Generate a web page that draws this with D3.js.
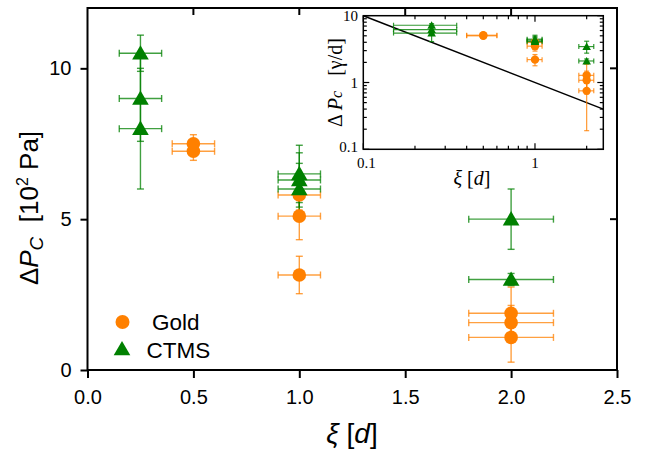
<!DOCTYPE html>
<html><head><meta charset="utf-8">
<script src="https://cdn.jsdelivr.net/npm/d3@7"></script>
<style>html,body{margin:0;padding:0;background:#fff;} text{white-space:pre;}</style>
</head><body>
<svg id="c" width="655" height="450"></svg>
<script>
// ---- data (main panel) ----
const goldX    = [0.5, 0.5, 1, 1, 1, 2, 2, 2];
const goldY    = [7.5, 7.25, 5.8, 5.1, 3.15, 1.88, 1.57, 1.08];
const goldYErr = [0.3, 0.3, 0.5, 0.78, 0.62, 0.87, 0.57, 0.82];
const goldXErr = [0.1, 0.1, 0.1, 0.1, 0.1, 0.2, 0.2, 0.2];

const ctmsX    = [0.25, 0.25, 0.25, 1, 1, 1, 2, 2];
const ctmsY    = [10.5, 9.0, 8.0, 6.5, 6.3, 6.0, 5.0, 3.0];
const ctmsYErr = [0.6, 1.42, 2.0, 0.95, 0.9, 0.85, 1.0, 0.2];
const ctmsXErr = [0.1, 0.1, 0.1, 0.1, 0.1, 0.1, 0.2, 0.2];

// ---- data (inset, normalized [γ/d]) ----
const insetGoldY    = [5.1, 5.0, 4.0, 3.5, 2.2, 1.28, 1.08, 0.75];
const insetGoldYErr = [0.2, 0.2, 0.35, 0.55, 0.42, 0.6, 0.4, 0.56];
const insetCtmsY    = [7.2, 6.2, 5.5, 4.45, 4.3, 4.1, 3.45, 2.1];
const insetCtmsYErr = [0.4, 1.0, 1.4, 0.65, 0.6, 0.6, 0.7, 0.15];
const insetLineX = [0.1, 2.5];
const insetLineY = [10, 0.4];

const xTicks = [0, 0.5, 1.0, 1.5, 2.0, 2.5];
const yTicks = [0, 5, 10];
const insetXTickLabels = [0.1, 1];
const insetYTickLabels = [0.1, 1, 10];

const ORANGE = "#ff8000", GREEN = "#008000";
const SANS = "Liberation Sans, Arial, sans-serif";
const SERIF = "Liberation Serif, Times New Roman, serif";
const svg = d3.select("#c");

// ---- main scales ----
const x = d3.scaleLinear().domain([0, 2.5]).range([87.5, 617]);
const y = d3.scaleLinear().domain([0, 12]).range([370, 8]);

const g = svg.append("g");
g.append("rect").attr("x", x(0)).attr("y", y(12)).attr("width", x(2.5)-x(0)).attr("height", y(0)-y(12))
  .attr("fill", "none").attr("stroke", "#000").attr("stroke-width", 2);

const xa = g.append("g").attr("transform", `translate(0,${y(0)})`)
  .call(d3.axisBottom(x).tickValues(xTicks).tickFormat(d3.format(".1f")).tickSize(8).tickPadding(12));
xa.select(".domain").remove();
xa.selectAll("line").attr("stroke-width", 2);
xa.selectAll("text").attr("font-family", SANS).attr("font-size", 20).attr("fill", "#000");

const ya = g.append("g").attr("transform", `translate(${x(0)},0)`)
  .call(d3.axisLeft(y).tickValues(yTicks).tickSize(7).tickPadding(9));
ya.select(".domain").remove();
ya.selectAll("line").attr("stroke-width", 2);
ya.selectAll("text").attr("font-family", SANS).attr("font-size", 20).attr("fill", "#000");

g.selectAll(".tt").data(xTicks.slice(1, -1)).join("line")
  .attr("x1", d => x(d)).attr("x2", d => x(d)).attr("y1", y(12)).attr("y2", y(12)+7)
  .attr("stroke", "#000").attr("stroke-width", 2);
g.selectAll(".rt").data(yTicks.slice(1)).join("line")
  .attr("x1", x(2.5)).attr("x2", x(2.5)-7).attr("y1", d => y(d)).attr("y2", d => y(d))
  .attr("stroke", "#000").attr("stroke-width", 2);

function errBars(sel, xs, ys, xe, ye, sx, sy, color, cap, sw, op) {
  const eg = sel.append("g").attr("stroke", color).attr("stroke-width", sw).attr("stroke-opacity", op).attr("fill", "none");
  d3.range(xs.length).forEach(i => {
    const px = sx(xs[i]), py = sy(ys[i]);
    const x1 = sx(xs[i]-xe[i]), x2 = sx(xs[i]+xe[i]);
    const y1 = sy(ys[i]-ye[i]), y2 = sy(ys[i]+ye[i]);
    eg.append("line").attr("x1", x1).attr("x2", x2).attr("y1", py).attr("y2", py);
    eg.append("line").attr("x1", x1).attr("x2", x1).attr("y1", py-cap).attr("y2", py+cap);
    eg.append("line").attr("x1", x2).attr("x2", x2).attr("y1", py-cap).attr("y2", py+cap);
    eg.append("line").attr("x1", px).attr("x2", px).attr("y1", y1).attr("y2", y2);
    eg.append("line").attr("x1", px-cap).attr("x2", px+cap).attr("y1", y1).attr("y2", y1);
    eg.append("line").attr("x1", px-cap).attr("x2", px+cap).attr("y1", y2).attr("y2", y2);
  });
}
const tri = (s) => d3.symbol(d3.symbolTriangle, s);

errBars(g, goldX, goldY, goldXErr, goldYErr, x, y, ORANGE, 3.5, 1.4, 0.75);
errBars(g, ctmsX, ctmsY, ctmsXErr, ctmsYErr, x, y, GREEN, 3.5, 1.4, 0.75);

g.selectAll(".gc").data(goldX).join("circle")
  .attr("cx", d => x(d)).attr("cy", (d, i) => y(goldY[i])).attr("r", 6.8).attr("fill", ORANGE);
g.selectAll(".ct").data(ctmsX).join("path")
  .attr("d", tri(120)).attr("transform", (d, i) => `translate(${x(d)},${y(ctmsY[i])+1.5})`).attr("fill", GREEN);

// legend
g.append("circle").attr("cx", 122.5).attr("cy", 322).attr("r", 7).attr("fill", ORANGE);
g.append("path").attr("d", tri(120)).attr("transform", "translate(122,350.5)").attr("fill", GREEN);
g.append("text").attr("x", 152).attr("y", 330).text("Gold").attr("font-family", SANS).attr("font-size", 22.5);
g.append("text").attr("x", 146.5).attr("y", 358).text("CTMS").attr("font-family", SANS).attr("font-size", 22.5);

// axis titles
const xt = g.append("text").attr("x", 352).attr("y", 443).attr("text-anchor", "middle")
  .attr("font-family", SANS).attr("font-size", 28);
xt.append("tspan").attr("font-style", "italic").text("ξ");
xt.append("tspan").text(" [");
xt.append("tspan").attr("font-style", "italic").text("d");
xt.append("tspan").text("]");

const yt = g.append("text").attr("transform", "translate(38,208) rotate(-90)").attr("text-anchor", "middle")
  .attr("font-family", SANS).attr("font-size", 26);
yt.append("tspan").text("Δ");
yt.append("tspan").attr("font-style", "italic").text("P");
yt.append("tspan").attr("font-style", "italic").attr("font-size", 19).attr("dy", 5).text("C");
yt.append("tspan").attr("dy", -5).text("  [10");
yt.append("tspan").attr("font-size", 16).attr("dy", -10).text("2");
yt.append("tspan").attr("dy", 10).text(" Pa]");

// ---- inset ----
const ix = d3.scaleLog().domain([0.1, 2.5]).range([363.3, 603.3]);
const iy = d3.scaleLog().domain([0.1, 10]).range([149.3, 15.7]);
const ig = svg.append("g");
ig.append("rect").attr("x", ix(0.1)).attr("y", iy(10)).attr("width", ix(2.5)-ix(0.1)).attr("height", iy(0.1)-iy(10))
  .attr("fill", "#fff").attr("stroke", "#000").attr("stroke-width", 1.5);

const ixAll = ix.ticks();
const iyAll = iy.ticks();
const isMajor = v => Math.abs(Math.log10(v) - Math.round(Math.log10(v))) < 1e-6;
ig.selectAll(".ixb").data(ixAll).join("line")
  .attr("x1", d => ix(d)).attr("x2", d => ix(d)).attr("y1", iy(0.1)).attr("y2", d => iy(0.1) - (isMajor(d) ? 6 : 3.5))
  .attr("stroke", "#000").attr("stroke-width", 1.2);
ig.selectAll(".ixt").data(ixAll).join("line")
  .attr("x1", d => ix(d)).attr("x2", d => ix(d)).attr("y1", iy(10)).attr("y2", d => iy(10) + (isMajor(d) ? 6 : 3.5))
  .attr("stroke", "#000").attr("stroke-width", 1.2);
ig.selectAll(".iyl").data(iyAll).join("line")
  .attr("x1", ix(0.1)).attr("x2", d => ix(0.1) + (isMajor(d) ? 6 : 3.5)).attr("y1", d => iy(d)).attr("y2", d => iy(d))
  .attr("stroke", "#000").attr("stroke-width", 1.2);
ig.selectAll(".iyr").data(iyAll).join("line")
  .attr("x1", ix(2.5)).attr("x2", d => ix(2.5) - (isMajor(d) ? 6 : 3.5)).attr("y1", d => iy(d)).attr("y2", d => iy(d))
  .attr("stroke", "#000").attr("stroke-width", 1.2);
ig.selectAll(".ixlab").data(insetXTickLabels).join("text")
  .attr("x", d => ix(d) + (d === 0.1 ? 3 : 0)).attr("y", 168).attr("text-anchor", "middle")
  .attr("font-family", SERIF).attr("font-size", 15).text(d => d);
ig.selectAll(".iylab").data(insetYTickLabels).join("text")
  .attr("x", 358).attr("y", d => iy(d) + (d === 0.1 ? 3 : 5)).attr("text-anchor", "end")
  .attr("font-family", SERIF).attr("font-size", 15).text(d => d);

const line = d3.line().x(d => ix(d[0])).y(d => iy(d[1]));
ig.append("path").attr("d", line(insetLineX.map((v, i) => [v, insetLineY[i]])))
  .attr("fill", "none").attr("stroke", "#000").attr("stroke-width", 1.5);

errBars(ig, goldX, insetGoldY, goldXErr, insetGoldYErr, ix, iy, ORANGE, 2.5, 1.2, 0.8);
errBars(ig, ctmsX, insetCtmsY, ctmsXErr, insetCtmsYErr, ix, iy, GREEN, 2.5, 1.2, 0.8);
ig.selectAll(".igc").data(goldX).join("circle")
  .attr("cx", d => ix(d)).attr("cy", (d, i) => iy(insetGoldY[i])).attr("r", 4.2).attr("fill", ORANGE);
ig.selectAll(".ict").data(ctmsX).join("path")
  .attr("d", tri(32)).attr("transform", (d, i) => `translate(${ix(d)},${iy(insetCtmsY[i])+1})`).attr("fill", GREEN);

const ixt = ig.append("text").attr("x", 472).attr("y", 185).attr("text-anchor", "middle")
  .attr("font-family", SERIF).attr("font-size", 20);
ixt.append("tspan").attr("font-style", "italic").text("ξ");
ixt.append("tspan").text(" [");
ixt.append("tspan").attr("font-style", "italic").text("d");
ixt.append("tspan").text("]");

const iyt = ig.append("text").attr("transform", "translate(342,82.5) rotate(-90)").attr("text-anchor", "middle")
  .attr("font-family", SERIF).attr("font-size", 20);
iyt.append("tspan").text("Δ ");
iyt.append("tspan").attr("font-style", "italic").text("P");
iyt.append("tspan").attr("font-style", "italic").attr("font-size", 16).text("c");
iyt.append("tspan").text("   [γ/d]");
</script>
</body></html>
